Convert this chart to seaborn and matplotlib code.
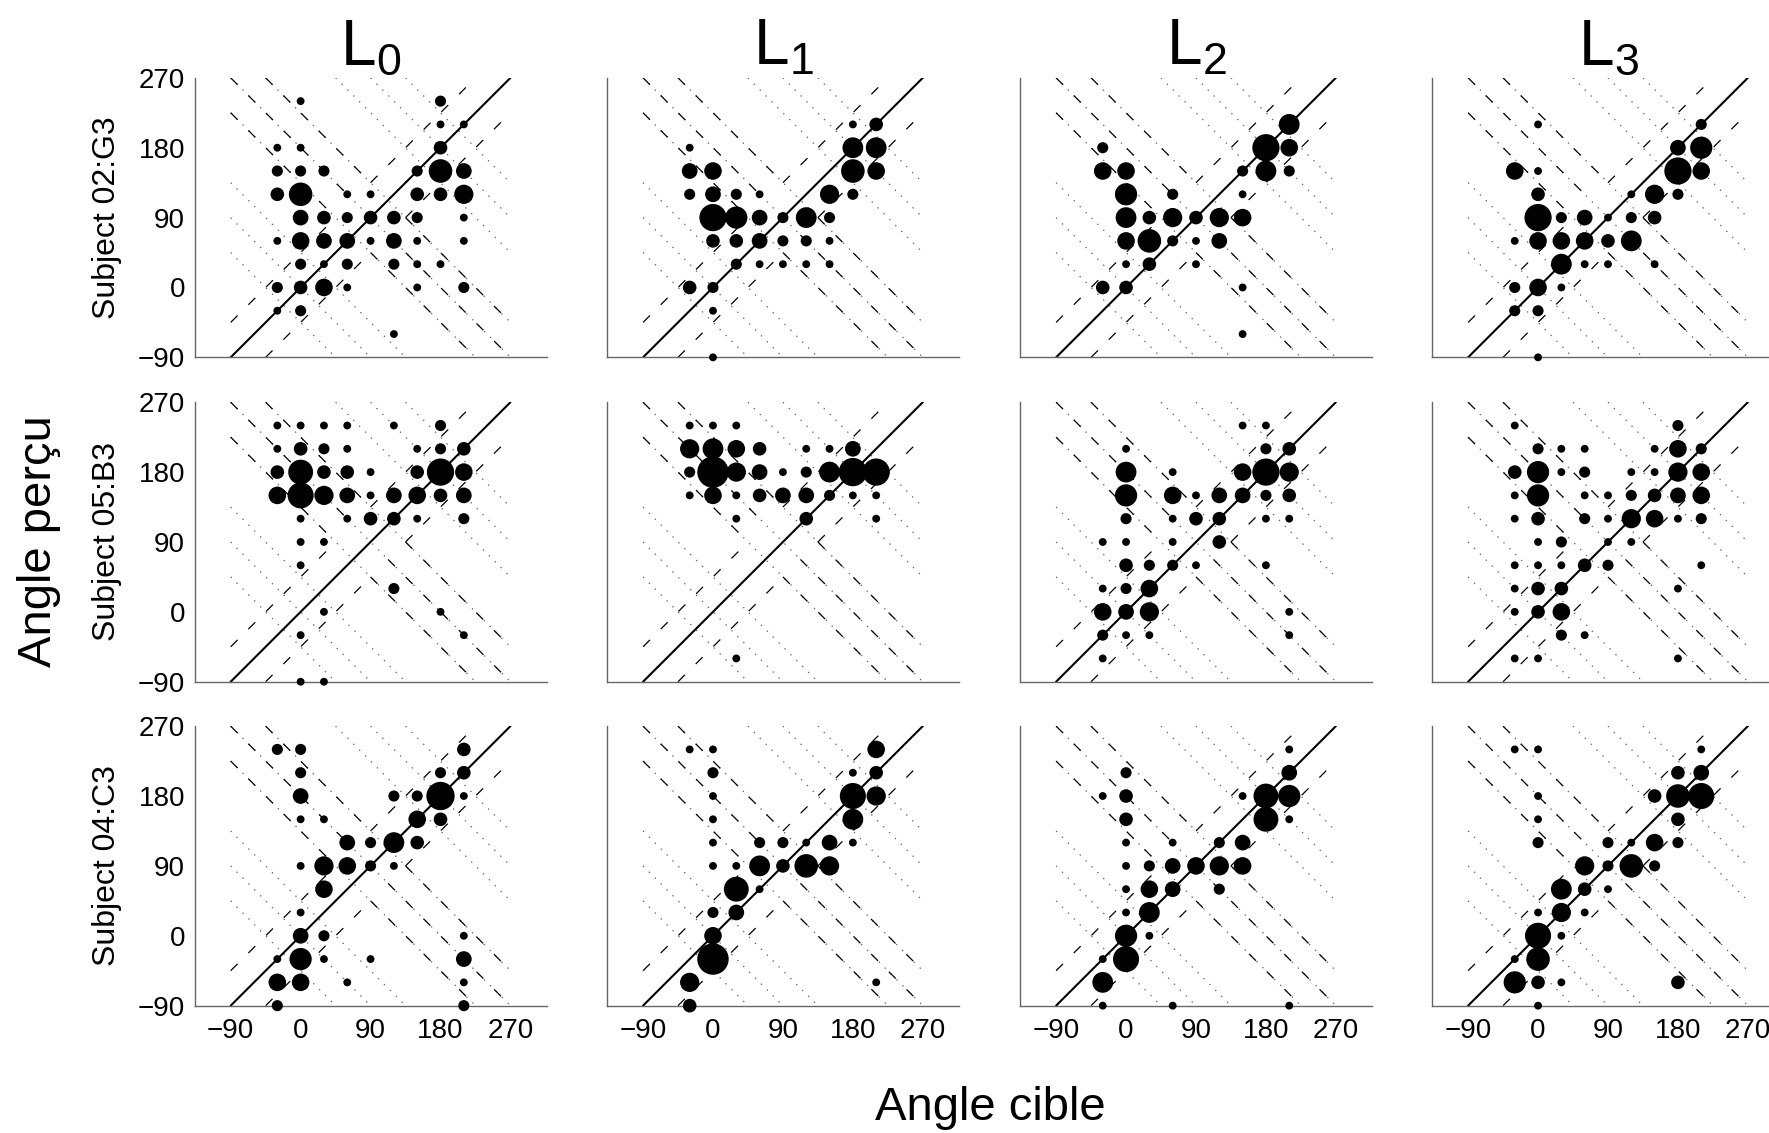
import matplotlib
matplotlib.use("Agg")
import matplotlib.pyplot as plt
import seaborn as sns
import pandas as pd

# (angle cible, angle perçu, nombre de réponses) for each subject / level
G3_L0 = [(0, 240, 1), (180, 240, 2),
         (180, 210, 1), (210, 210, 1),
         (-30, 180, 1), (0, 180, 1), (180, 180, 3),
         (-30, 150, 2), (0, 150, 2), (30, 150, 2), (150, 150, 2), (180, 150, 9), (210, 150, 4),
         (-30, 120, 3), (0, 120, 9), (60, 120, 1), (90, 120, 1), (150, 120, 3), (180, 120, 3), (210, 120, 6),
         (0, 90, 4), (30, 90, 3), (60, 90, 2), (90, 90, 3), (120, 90, 3), (150, 90, 2), (210, 90, 1),
         (-30, 60, 1), (0, 60, 5), (30, 60, 4), (60, 60, 4), (90, 60, 1), (120, 60, 4), (150, 60, 1), (210, 60, 1),
         (0, 30, 2), (30, 30, 1), (60, 30, 2), (120, 30, 2), (150, 30, 1), (180, 30, 1),
         (-30, 0, 2), (0, 0, 3), (30, 0, 5), (60, 0, 1), (150, 0, 1), (210, 0, 2),
         (-30, -30, 1), (0, -30, 2),
         (120, -60, 1)]

G3_L1 = [(180, 210, 1), (210, 210, 3),
         (-30, 180, 1), (180, 180, 7), (210, 180, 7),
         (-30, 150, 4), (0, 150, 5), (180, 150, 9), (210, 150, 5),
         (-30, 120, 2), (0, 120, 4), (30, 120, 2), (60, 120, 1), (150, 120, 6), (180, 120, 2),
         (0, 90, 12), (30, 90, 8), (60, 90, 4), (90, 90, 2), (120, 90, 7), (150, 90, 2),
         (0, 60, 3), (30, 60, 3), (60, 60, 4), (90, 60, 2), (120, 60, 2), (150, 60, 1),
         (30, 30, 2), (60, 30, 1), (90, 30, 1), (120, 30, 1), (150, 30, 1),
         (-30, 0, 3), (0, 0, 2),
         (0, -30, 1),
         (0, -90, 1)]

G3_L2 = [(210, 210, 7),
         (-30, 180, 2), (180, 180, 12), (210, 180, 5),
         (-30, 150, 5), (0, 150, 5), (150, 150, 2), (180, 150, 7), (210, 150, 2),
         (0, 120, 8), (60, 120, 2), (150, 120, 1),
         (0, 90, 7), (30, 90, 3), (60, 90, 6), (90, 90, 3), (120, 90, 6), (150, 90, 5),
         (0, 60, 5), (30, 60, 9), (60, 60, 2), (90, 60, 1), (120, 60, 4),
         (0, 30, 1), (30, 30, 3), (90, 30, 1),
         (-30, 0, 3), (0, 0, 3), (150, 0, 1),
         (150, -60, 1)]

G3_L3 = [(0, 210, 1), (210, 210, 2),
         (180, 180, 4), (210, 180, 8),
         (-30, 150, 5), (0, 150, 1), (180, 150, 12), (210, 150, 5),
         (0, 120, 3), (120, 120, 1), (150, 120, 6), (180, 120, 2),
         (0, 90, 12), (30, 90, 2), (60, 90, 4), (90, 90, 1), (120, 90, 2), (150, 90, 3),
         (-30, 60, 1), (0, 60, 5), (30, 60, 5), (60, 60, 5), (90, 60, 3), (120, 60, 7),
         (30, 30, 7), (60, 30, 1), (90, 30, 1), (150, 30, 1),
         (-30, 0, 2), (0, 0, 5), (30, 0, 1),
         (-30, -30, 2), (0, -30, 2),
         (0, -90, 1)]

B3_L0 = [(-30, 240, 1), (0, 240, 1), (30, 240, 1), (60, 240, 1), (120, 240, 1), (180, 240, 2),
         (-30, 210, 1), (0, 210, 3), (30, 210, 2), (60, 210, 1), (150, 210, 1), (180, 210, 2), (210, 210, 3),
         (-30, 180, 3), (0, 180, 10), (30, 180, 3), (60, 180, 3), (90, 180, 1), (150, 180, 3), (180, 180, 12),
         (210, 180, 5),
         (-30, 150, 5), (0, 150, 11), (30, 150, 6), (60, 150, 4), (90, 150, 1), (120, 150, 4), (150, 150, 5),
         (180, 150, 3), (210, 150, 4),
         (0, 120, 1), (60, 120, 1), (90, 120, 3), (120, 120, 3), (150, 120, 1), (210, 120, 2),
         (0, 90, 1), (30, 90, 1),
         (0, 60, 1),
         (120, 30, 2),
         (30, 0, 1), (180, 0, 1),
         (0, -30, 1), (210, -30, 1),
         (0, -90, 1), (30, -90, 1)]

B3_L1 = [(-30, 240, 1), (0, 240, 1), (30, 240, 1),
         (-30, 210, 6), (0, 210, 7), (30, 210, 5), (60, 210, 3), (120, 210, 1), (150, 210, 1), (180, 210, 4),
         (-30, 180, 2), (0, 180, 16), (30, 180, 6), (60, 180, 4), (90, 180, 1), (120, 180, 2), (150, 180, 7),
         (180, 180, 13), (210, 180, 12),
         (-30, 150, 1), (0, 150, 5), (30, 150, 1), (60, 150, 3), (90, 150, 4), (120, 150, 4), (150, 150, 2),
         (180, 150, 1), (210, 150, 1),
         (30, 120, 1), (120, 120, 3), (210, 120, 1),
         (30, -60, 1)]

B3_L2 = [(150, 240, 1), (180, 240, 1),
         (0, 210, 1), (180, 210, 2), (210, 210, 3),
         (0, 180, 7), (60, 180, 1), (150, 180, 5), (180, 180, 12), (210, 180, 6),
         (0, 150, 8), (60, 150, 5), (90, 150, 1), (120, 150, 4), (150, 150, 4), (180, 150, 2), (210, 150, 3),
         (0, 120, 2), (60, 120, 1), (90, 120, 3), (120, 120, 3), (180, 120, 1), (210, 120, 1),
         (-30, 90, 1), (0, 90, 1), (60, 90, 1), (120, 90, 3),
         (0, 60, 3), (30, 60, 2), (60, 60, 2), (90, 60, 1), (180, 60, 1),
         (-30, 30, 1), (0, 30, 2), (30, 30, 5),
         (-30, 0, 5), (0, 0, 4), (30, 0, 6), (210, 0, 1),
         (-30, -30, 2), (0, -30, 1), (30, -30, 1), (210, -30, 1),
         (-30, -60, 1)]

B3_L3 = [(-30, 240, 1), (180, 240, 2),
         (0, 210, 2), (30, 210, 1), (60, 210, 1), (150, 210, 1), (180, 210, 5), (210, 210, 2),
         (-30, 180, 3), (0, 180, 8), (30, 180, 1), (60, 180, 2), (120, 180, 1), (150, 180, 1), (180, 180, 6),
         (210, 180, 5),
         (-30, 150, 1), (0, 150, 8), (60, 150, 1), (90, 150, 1), (120, 150, 2), (150, 150, 3), (180, 150, 4),
         (210, 150, 5),
         (-30, 120, 1), (0, 120, 3), (60, 120, 2), (90, 120, 1), (120, 120, 6), (150, 120, 5), (180, 120, 1),
         (210, 120, 2),
         (0, 90, 1), (30, 90, 2), (90, 90, 1), (120, 90, 1),
         (-30, 60, 1), (0, 60, 1), (30, 60, 1), (60, 60, 3), (90, 60, 2), (210, 60, 1),
         (-30, 30, 1), (0, 30, 3), (30, 30, 3), (180, 30, 1),
         (-30, 0, 1), (0, 0, 3), (30, 0, 5),
         (30, -30, 2), (60, -30, 1),
         (-30, -60, 1), (0, -60, 1), (180, -60, 1)]

C3_L0 = [(-30, 240, 2), (0, 240, 2), (210, 240, 3),
         (0, 210, 2), (180, 210, 2), (210, 210, 3),
         (0, 180, 4), (120, 180, 2), (150, 180, 2), (180, 180, 13), (210, 180, 1),
         (0, 150, 1), (30, 150, 1), (150, 150, 5), (180, 150, 3),
         (60, 120, 4), (90, 120, 2), (120, 120, 7), (150, 120, 3),
         (0, 90, 1), (30, 90, 6), (60, 90, 5), (90, 90, 2), (120, 90, 1),
         (30, 60, 5),
         (0, 30, 1),
         (0, 0, 4), (30, 0, 2), (210, 0, 1),
         (-30, -30, 1), (0, -30, 8), (30, -30, 1), (90, -30, 1), (210, -30, 4),
         (-30, -60, 5), (0, -60, 5), (60, -60, 1), (210, -60, 1),
         (-30, -90, 2), (210, -90, 2)]

C3_L1 = [(-30, 240, 1), (0, 240, 1), (210, 240, 5),
         (0, 210, 2), (180, 210, 1), (210, 210, 3),
         (0, 180, 1), (180, 180, 11), (210, 180, 6),
         (0, 150, 1), (180, 150, 7),
         (0, 120, 1), (60, 120, 2), (90, 120, 2), (120, 120, 1), (150, 120, 4), (180, 120, 1),
         (0, 90, 1), (30, 90, 1), (60, 90, 7), (90, 90, 3), (120, 90, 9), (150, 90, 6),
         (30, 60, 10), (60, 60, 1),
         (0, 30, 2), (30, 30, 4),
         (0, 0, 5),
         (0, -30, 16),
         (-30, -60, 6), (210, -60, 1),
         (-30, -90, 3)]

C3_L2 = [(210, 240, 1),
         (0, 210, 2), (210, 210, 4),
         (-30, 180, 1), (0, 180, 3), (150, 180, 1), (180, 180, 10), (210, 180, 8),
         (0, 150, 3), (180, 150, 10), (210, 150, 1),
         (0, 120, 1), (60, 120, 1), (120, 120, 2), (150, 120, 4),
         (0, 90, 1), (30, 90, 2), (60, 90, 4), (90, 90, 5), (120, 90, 6), (150, 90, 5),
         (0, 60, 1), (30, 60, 5), (60, 60, 4), (120, 60, 2),
         (0, 30, 1), (30, 30, 7),
         (0, 0, 8), (30, 0, 1),
         (-30, -30, 1), (0, -30, 11),
         (-30, -60, 7),
         (-30, -90, 1), (60, -90, 1), (210, -90, 1)]

C3_L3 = [(-30, 240, 1), (0, 240, 1), (210, 240, 1),
         (180, 210, 3), (210, 210, 4),
         (0, 180, 1), (150, 180, 3), (180, 180, 9), (210, 180, 11),
         (0, 150, 1), (180, 150, 3),
         (0, 120, 2), (90, 120, 2), (120, 120, 1), (150, 120, 5), (180, 120, 2),
         (60, 90, 6), (90, 90, 2), (120, 90, 9), (150, 90, 2),
         (30, 60, 7), (60, 60, 3), (90, 60, 1),
         (0, 30, 1), (30, 30, 6), (60, 30, 1),
         (0, 0, 11), (30, 0, 1),
         (-30, -30, 1), (0, -30, 9),
         (-30, -60, 8), (0, -60, 3), (30, -60, 1), (180, -60, 3),
         (0, -90, 1)]

SUBJECTS = ["Subject 02:G3", "Subject 05:B3", "Subject 04:C3"]
LEVELS = ["L_0", "L_1", "L_2", "L_3"]
PANELS = [[G3_L0, G3_L1, G3_L2, G3_L3],
          [B3_L0, B3_L1, B3_L2, B3_L3],
          [C3_L0, C3_L1, C3_L2, C3_L3]]
TICKS = [-90, 0, 90, 180, 270]

# guide lines: dotted mirror lines x + y = c, dashed +-45 deg bands
DOTTED = [-45, 0, 45, 135, 180, 225, 315, 360, 405]
DASHED_DIAG = [(45, [(-90, 45), (90, 225)]), (-45, [(-45, 90), (135, 270)])]
DASHED_ANTI = [(180, [(-90, 67.5), (112.5, 270)]),
               (225, [(-45, 90), (135, 270)]),
               (135, [(-90, 45), (90, 225)])]


def draw_guides(ax):
    for c in DOTTED:
        x0, x1 = max(-90, c - 270), min(270, c + 90)
        ax.plot([x0, x1], [c - x0, c - x1], color="0.4", lw=0.9,
                linestyle=(0, (1, 5)), zorder=1)
    for off, parts in DASHED_DIAG:
        for x0, x1 in parts:
            ax.plot([x0, x1], [x0 + off, x1 + off], color="black", lw=0.9,
                    linestyle=(0, (7, 11)), zorder=1.5)
    for c, parts in DASHED_ANTI:
        for x0, x1 in parts:
            ax.plot([x0, x1], [c - x0, c - x1], color="black", lw=0.9,
                    linestyle=(0, (7, 11)), zorder=1.5)
    ax.plot([-90, 270], [-90, 270], color="black", lw=1.5, zorder=2)


sns.set_theme(style="white")
plt.rcParams["font.family"] = ["Liberation Sans", "DejaVu Sans"]
plt.rcParams["lines.scale_dashes"] = False
plt.rcParams["text.color"] = "black"
plt.rcParams["axes.titlecolor"] = "black"

fig = plt.figure(figsize=(17.69, 11.33), dpi=100)
LEFTS = [0.1102, 0.3433, 0.5768, 0.8097]
BOTTOMS = [0.6846, 0.3983, 0.1124]
W, H = 0.199, 0.2467
SIZES = {n: 32 * n for n in range(1, 21)}

for r, subject in enumerate(SUBJECTS):
    for c, level in enumerate(LEVELS):
        ax = fig.add_axes([LEFTS[c], BOTTOMS[r], W, H])
        draw_guides(ax)
        df = pd.DataFrame(PANELS[r][c], columns=["cible", "percu", "n"])
        sns.scatterplot(data=df, x="cible", y="percu", size="n", sizes=SIZES,
                        color="black", linewidth=0, legend=False, ax=ax,
                        clip_on=False, zorder=3)
        ax.set_xlim(-136, 317)
        ax.set_ylim(-90, 270)
        ax.set_xlabel("")
        ax.set_ylabel("")
        for side in ["top", "right"]:
            ax.spines[side].set_visible(False)
        for side in ["left", "bottom"]:
            ax.spines[side].set_color("0.4")
            ax.spines[side].set_linewidth(1.0)
        ax.tick_params(direction="in", length=4, width=0.8, color="0.4",
                       labelsize=20, labelcolor="black")
        ax.tick_params(axis="x", pad=9)
        ax.tick_params(axis="y", pad=7)
        ax.set_xticks(TICKS if r == 2 else [])
        ax.set_yticks(TICKS if c == 0 else [])
        if r == 0:
            ax.set_title(r"$\mathregular{%s}$" % level, fontsize=46, pad=1, color="black")
        if c == 0:
            fig.text(0.0605, BOTTOMS[r] + H / 2, subject, rotation=90,
                     ha="center", va="center", fontsize=23, color="black")

fig.text(0.0223, 0.522, "Angle perçu", rotation=90, ha="center", va="center",
         fontsize=34, color="black")
fig.text(0.5596, 0.022, "Angle cible", ha="center", va="center", fontsize=34, color="black")

fig.savefig("out.png", dpi=100)
